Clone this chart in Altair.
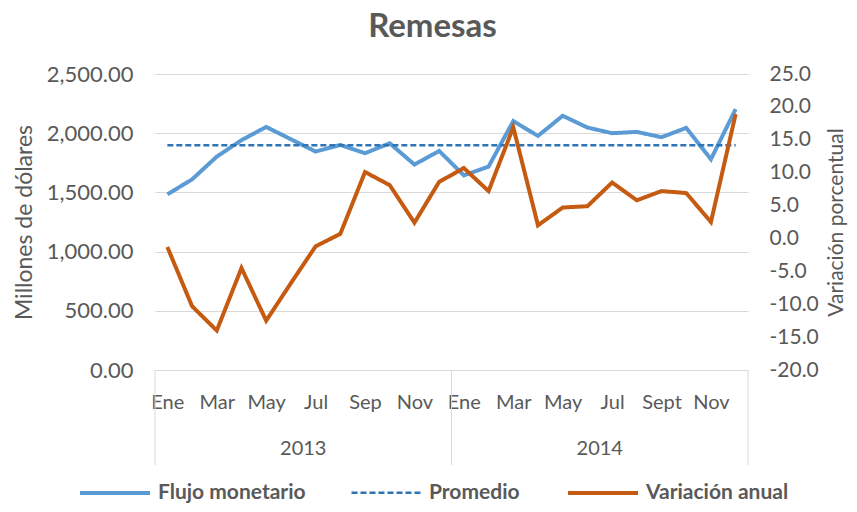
import altair as alt
import pandas as pd

# ---------------- data ----------------
years = ["2013", "2014"]
months = ["Ene", "Feb", "Mar", "Abr", "May", "Jun", "Jul", "Ago", "Sep", "Oct", "Nov", "Dic"]
tick_labels = ["Ene", "Mar", "May", "Jul", "Sep", "Nov", "Ene", "Mar", "May", "Jul", "Sept", "Nov"]

flujo = [1483, 1610, 1802, 1941, 2053, 1949, 1845, 1901, 1831, 1915, 1735, 1850,
         1644, 1718, 2102, 1977, 2147, 2048, 2000, 2011, 1966, 2045, 1780, 2203]
variacion = [-1.3, -10.3, -14.0, -4.5, -12.5, -6.8, -1.2, 0.7, 10.1, 8.1, 2.4, 8.6,
             10.7, 7.2, 16.9, 2.0, 4.7, 4.9, 8.5, 5.8, 7.2, 6.9, 2.5, 18.9]
promedio = 1898.0

series = ["Flujo monetario", "Promedio", "Variación anual"]
colors = ["#5B9BD5", "#2E75B6", "#C55A11"]
dashes = [[1, 0], [6, 3], [1, 0]]
widths = [4, 2.5, 4]

n = len(years) * len(months)
rows = []
for i in range(n):
    rows.append({"idx": i, "serie": series[0], "value": flujo[i]})
    rows.append({"idx": i, "serie": series[1], "value": promedio})
left_df = pd.DataFrame(rows)
right_df = pd.DataFrame({"idx": list(range(n)), "serie": series[2], "value": variacion})

sep_df = pd.DataFrame({"pos": [-0.5 + len(months) * k for k in range(len(years) + 1)]})
year_df = pd.DataFrame({"year": years,
                        "pos": [len(months) * k + (len(months) - 1) / 2 for k in range(len(years))]})

FONT = "Lato"
GREY = "#595959"
GRID = "#D9D9D9"
W, H = 593, 296

label_arr = "[" + ",".join("'" + t + "'" for t in tick_labels) + "]"

x_scale = alt.Scale(domain=[-0.5, n - 0.5], nice=False, zero=False)
x_enc = alt.X("idx:Q", scale=x_scale,
              axis=alt.Axis(values=list(range(0, n, 2)), labelExpr=label_arr + "[datum.value/2]",
                            grid=False, ticks=False, domain=True, domainColor=GRID, domainWidth=1,
                            labelFontSize=20, labelColor=GREY, labelFont=FONT, labelPadding=22,
                            labelFlush=False, labelOverlap=False, title=None))

color = alt.Color("serie:N", scale=alt.Scale(domain=series, range=colors),
                  legend=alt.Legend(orient="none", legendX=-77, legendY=382, direction="horizontal",
                                    title=None, symbolType="stroke", symbolSize=4900,
                                    labelFontSize=21, labelFontWeight="bold", labelColor=GREY,
                                    labelFont=FONT, columnPadding=40, labelOffset=6))
dash = alt.StrokeDash("serie:N", scale=alt.Scale(type="ordinal", domain=series, range=dashes), legend=None)
width_enc = alt.StrokeWidth("serie:N", scale=alt.Scale(type="ordinal", domain=series, range=widths), legend=None)

left = alt.Chart(left_df).mark_line().encode(
    x=x_enc,
    y=alt.Y("value:Q", scale=alt.Scale(domain=[0, 2500], nice=False),
            axis=alt.Axis(values=[0, 500, 1000, 1500, 2000, 2500], format=",.2f",
                          grid=True, gridColor=GRID, gridWidth=1, domain=False, ticks=False,
                          labelFontSize=22, labelColor=GREY, labelFont=FONT, labelPadding=22,
                          title="Millones de dólares", titleFontSize=23, titleFont=FONT,
                          titleColor=GREY, titleFontWeight="normal", titlePadding=10)),
    color=color, strokeDash=dash, strokeWidth=width_enc,
)

right = alt.Chart(right_df).mark_line().encode(
    x=alt.X("idx:Q", scale=x_scale),
    y=alt.Y("value:Q", scale=alt.Scale(domain=[-20, 25], nice=False),
            axis=alt.Axis(orient="right", values=list(range(-20, 26, 5)),
                          labelExpr="replace(format(datum.value, '.1f'), '\u2212', '-')",
                          grid=False, domain=False, ticks=False,
                          labelFontSize=21, labelColor=GREY, labelFont=FONT, labelPadding=21,
                          title="Variación porcentual", titleFontSize=21, titleFont=FONT,
                          titleColor=GREY, titleFontWeight="normal", titlePadding=28,
                          titleAngle=270)),
    color=color, strokeDash=dash, strokeWidth=width_enc,
)

seps = alt.Chart(sep_df).mark_rule(color=GRID, strokeWidth=1).encode(
    x=alt.X("pos:Q", scale=x_scale), y=alt.value(H), y2=alt.value(H + 95))

year_text = alt.Chart(year_df).mark_text(fontSize=20, font=FONT, color=GREY, baseline="middle").encode(
    x=alt.X("pos:Q", scale=x_scale), y=alt.value(H + 79), text="year:N")

chart = alt.layer(seps, left, right, year_text).resolve_scale(y="independent").properties(
    width=W, height=H,
    autosize=alt.AutoSizeParams(type="none"),
    padding={"left": 147, "top": 66, "right": 101, "bottom": 134},
    title=alt.Title("Remesas", fontSize=33, font=FONT, fontWeight="bold", color=GREY,
                    anchor="middle", offset=19, dx=-19),
).configure_view(stroke=None)

chart.save("out.html", embed_options={"renderer": "svg", "actions": False})
